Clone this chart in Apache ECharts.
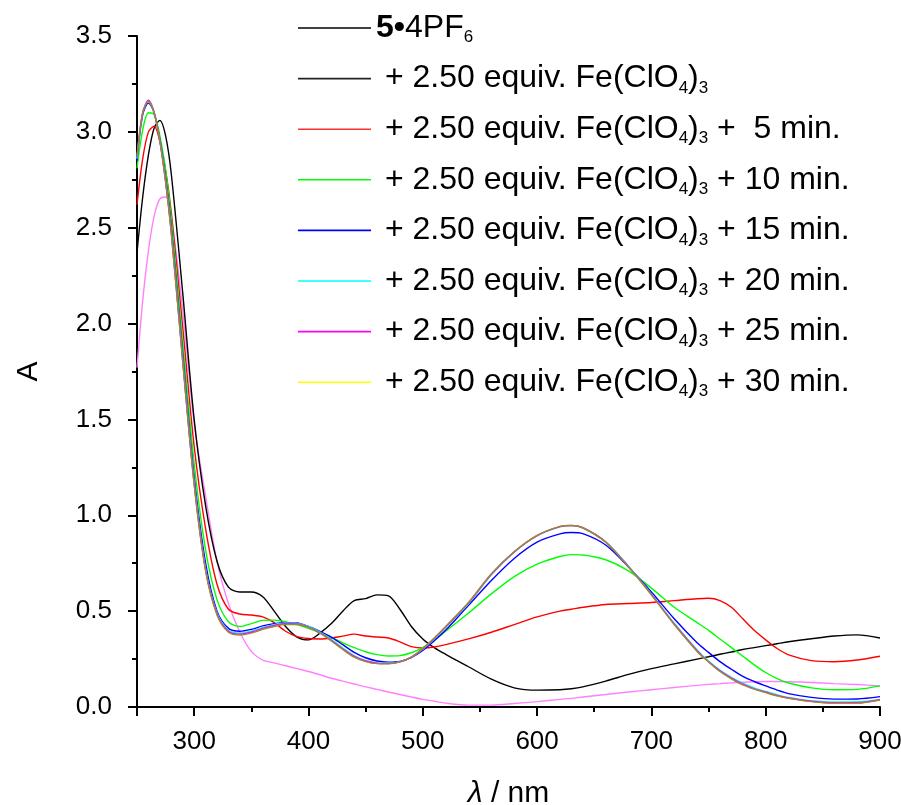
<!DOCTYPE html>
<html>
<head>
<meta charset="utf-8">
<script src="https://cdn.jsdelivr.net/npm/echarts@6/dist/echarts.min.js"></script>
<style>
html,body{margin:0;padding:0;background:#fff;}
#chart{width:901px;height:805px;}
</style>
</head>
<body>
<div id="chart"></div>
<script>
// wavelengths (nm)
const wl = [250,255,260,265,270,275,280,290,300,310,320,330,340,350,360,370,380,390,400,410,420,430,440,450,460,470,480,490,500,510,520,540,560,580,600,620,630,640,660,680,700,720,740,750,760,770,780,790,800,810,820,840,860,880,900];

const s_free = [1.77,2.12,2.38,2.56,2.65,2.66,2.56,2.07,1.48,1.10,0.76,0.54,0.39,0.29,0.245,0.23,0.215,0.20,0.185,0.168,0.15,0.135,0.12,0.105,0.092,0.078,0.065,0.052,0.04,0.03,0.02,0.01,0.01,0.018,0.028,0.04,0.045,0.052,0.065,0.078,0.09,0.102,0.113,0.118,0.122,0.126,0.129,0.131,0.133,0.133,0.132,0.128,0.122,0.117,0.11];
const s_0   = [2.37,2.66,2.88,3.02,3.06,2.98,2.78,2.16,1.50,1.05,0.76,0.625,0.60,0.60,0.575,0.50,0.42,0.365,0.35,0.385,0.435,0.50,0.555,0.565,0.585,0.58,0.51,0.42,0.355,0.31,0.275,0.21,0.145,0.10,0.088,0.09,0.095,0.105,0.135,0.17,0.20,0.225,0.25,0.262,0.275,0.287,0.30,0.31,0.32,0.33,0.34,0.356,0.37,0.376,0.36];
const s_5   = [2.62,2.86,3.00,3.03,2.95,2.80,2.58,1.98,1.36,0.93,0.64,0.51,0.485,0.48,0.47,0.44,0.395,0.367,0.357,0.355,0.36,0.37,0.38,0.37,0.365,0.36,0.34,0.315,0.308,0.313,0.325,0.355,0.39,0.43,0.47,0.50,0.51,0.52,0.535,0.54,0.545,0.555,0.565,0.567,0.555,0.52,0.46,0.40,0.35,0.305,0.272,0.242,0.236,0.245,0.265];
const s_10  = [2.81,3.01,3.10,3.09,2.98,2.80,2.55,1.90,1.27,0.82,0.56,0.445,0.42,0.435,0.452,0.453,0.445,0.43,0.41,0.387,0.363,0.335,0.31,0.288,0.273,0.266,0.268,0.283,0.31,0.35,0.395,0.49,0.59,0.68,0.745,0.785,0.795,0.793,0.768,0.71,0.62,0.52,0.44,0.40,0.355,0.31,0.265,0.22,0.18,0.148,0.125,0.10,0.09,0.092,0.11];
const s_15  = [2.85,3.09,3.15,3.10,2.96,2.76,2.50,1.84,1.20,0.75,0.50,0.41,0.395,0.405,0.423,0.435,0.44,0.438,0.42,0.395,0.365,0.325,0.285,0.257,0.24,0.234,0.238,0.258,0.295,0.345,0.40,0.53,0.66,0.775,0.86,0.903,0.91,0.904,0.845,0.73,0.60,0.46,0.335,0.285,0.237,0.197,0.16,0.133,0.11,0.088,0.07,0.05,0.041,0.042,0.054];
const s_20  = [2.86,3.10,3.16,3.10,2.955,2.745,2.48,1.81,1.17,0.72,0.49,0.40,0.385,0.395,0.415,0.43,0.438,0.436,0.42,0.39,0.352,0.308,0.268,0.243,0.23,0.228,0.236,0.26,0.302,0.355,0.415,0.54,0.69,0.808,0.893,0.94,0.946,0.935,0.862,0.735,0.59,0.437,0.298,0.24,0.193,0.155,0.124,0.10,0.081,0.064,0.05,0.033,0.026,0.027,0.04];
const s_25  = [2.87,3.10,3.165,3.10,2.952,2.742,2.475,1.805,1.165,0.715,0.485,0.395,0.38,0.39,0.41,0.425,0.434,0.433,0.417,0.387,0.348,0.304,0.264,0.24,0.228,0.226,0.235,0.26,0.303,0.357,0.417,0.543,0.692,0.809,0.894,0.941,0.947,0.935,0.861,0.732,0.587,0.433,0.294,0.236,0.189,0.151,0.119,0.095,0.078,0.06,0.047,0.03,0.022,0.022,0.038];
const s_30  = [2.87,3.10,3.16,3.10,2.95,2.74,2.47,1.80,1.16,0.71,0.48,0.39,0.375,0.385,0.405,0.42,0.43,0.43,0.415,0.385,0.345,0.30,0.26,0.237,0.226,0.225,0.235,0.26,0.305,0.36,0.42,0.545,0.695,0.81,0.895,0.942,0.947,0.935,0.86,0.73,0.585,0.43,0.29,0.235,0.185,0.147,0.115,0.093,0.075,0.058,0.045,0.028,0.02,0.02,0.036];

const seriesNames = [
  "5•4PF6",
  " + 2.50 equiv. Fe(ClO4)3",
  " + 2.50 equiv. Fe(ClO4)3 +  5 min.",
  " + 2.50 equiv. Fe(ClO4)3 + 10 min.",
  " + 2.50 equiv. Fe(ClO4)3 + 15 min.",
  " + 2.50 equiv. Fe(ClO4)3 + 20 min.",
  " + 2.50 equiv. Fe(ClO4)3 + 25 min.",
  " + 2.50 equiv. Fe(ClO4)3 + 30 min."
];
const seriesValues = [s_free, s_0, s_5, s_10, s_15, s_20, s_25, s_30];
const lineColors   = ["#ff80ff","#000000","#ff0000","#00ff00","#0000ff","#00ffff","#ff00ff","#9c8b2c"];
const legendColors = ["#000000","#222222","#ff3030","#00ff00","#0000ff","#00ffff","#ff00ff","#ffff00"];

const xMajor = [250,300,400,500,600,700,800,900];
const xLabels = [300,400,500,600,700,800,900];
const xMinor = [350,450,550,650,750,850];

const FONT = "'Liberation Sans', Arial, Helvetica, sans-serif";

function legendText(name){
  if (name === seriesNames[0]) return "{b|5•}4PF{sub|6}";
  return name.replace("ClO4)3", "ClO{sub|4}){sub|3}");
}

const chart = echarts.init(document.getElementById('chart'), null, {renderer:'canvas'});
const series = seriesNames.map((n,i)=>({
  name:n, type:'line', symbol:'none', showSymbol:false, smooth:0.3,
  data: wl.map((x,j)=>[x, seriesValues[i][j]]),
  lineStyle:{color:lineColors[i], width:1.4},
  itemStyle:{color:lineColors[i]},
  emphasis:{disabled:true}, animation:false, z: 2+i
}));

chart.setOption({
  animation:false,
  backgroundColor:'#ffffff',
  grid:{left:137, right:21, top:36, bottom:98, containLabel:false, outerBoundsMode:'none'},
  legend:{
    orient:'vertical', left:293, top:5,
    icon:'rect', itemWidth:73, itemHeight:1.6, itemGap:14.6,
    selectedMode:false,
    data: seriesNames.map((n,i)=>({name:n, itemStyle:{color:legendColors[i]}})),
    formatter: legendText,
    textStyle:{fontFamily:FONT, fontSize:32, color:'#000', lineHeight:36,
      rich:{
        b:{fontFamily:FONT, fontSize:32, fontWeight:'bold', color:'#000', lineHeight:36},
        sub:{fontFamily:FONT, fontSize:17, color:'#000', verticalAlign:'bottom', lineHeight:1}
      }}
  },
  xAxis:[{
    type:'value', position:'bottom', min:250, max:900, interval:50,
    axisLine:{show:true, onZero:false, lineStyle:{color:'#000', width:2}},
    axisTick:{show:true, customValues:xMajor, length:9, lineStyle:{color:'#000', width:2}},
    axisLabel:{show:true, customValues:xLabels, margin:22, fontFamily:FONT, fontSize:26, color:'#000'},
    splitLine:{show:false},
    name:'{i|λ} / nm', nameLocation:'middle', nameGap:72,
    nameTextStyle:{fontFamily:FONT, fontSize:30, color:'#000',
      rich:{i:{fontFamily:FONT, fontSize:30, fontStyle:'italic', color:'#000'}}}
  },{
    type:'value', position:'bottom', min:250, max:900, interval:50,
    axisLine:{show:false, onZero:false},
    axisTick:{show:true, customValues:xMinor, length:5, lineStyle:{color:'#000', width:2}},
    axisLabel:{show:false}, splitLine:{show:false}
  }],
  yAxis:{
    type:'value', min:0, max:3.5, interval:0.5,
    axisLine:{show:true, onZero:false, lineStyle:{color:'#000', width:2}},
    axisTick:{show:true, length:9, lineStyle:{color:'#000', width:2}},
    minorTick:{show:true, splitNumber:2, length:5, lineStyle:{color:'#000', width:2}},
    axisLabel:{margin:25, fontFamily:FONT, fontSize:26, color:'#000', formatter:v=>v.toFixed(1)},
    splitLine:{show:false}, minorSplitLine:{show:false},
    name:'A', nameLocation:'middle', nameGap:93, nameRotate:90,
    nameTextStyle:{fontFamily:FONT, fontSize:30, color:'#000'}
  },
  series: series
});
</script>
</body>
</html>
